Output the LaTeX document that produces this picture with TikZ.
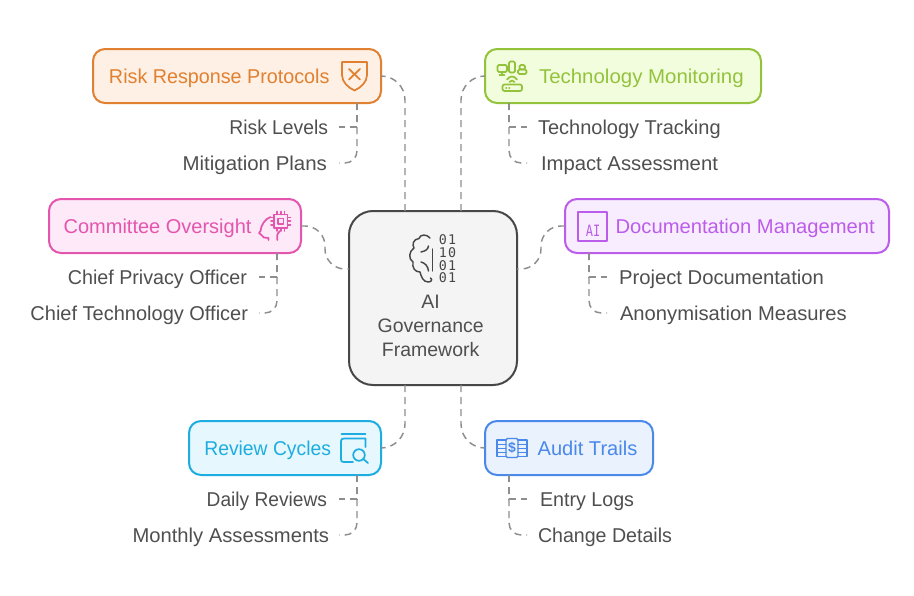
\documentclass[tikz,border=0pt]{standalone}
\usepackage{fontspec}
\usepackage{graphicx}
\setmainfont{Liberation Sans}
\newfontfamily\monof{DejaVu Sans Mono}
\newfontfamily\monosp[LetterSpace=8]{DejaVu Sans Mono}
\definecolor{inkc}{HTML}{4F4F4F}
\definecolor{dashc}{HTML}{8E8E8E}
\definecolor{orS}{HTML}{E08030}\definecolor{orF}{HTML}{FEF0E4}
\definecolor{grS}{HTML}{93C33B}\definecolor{grF}{HTML}{F2FDDD}
\definecolor{piS}{HTML}{E455AE}\definecolor{piF}{HTML}{FDE9F7}
\definecolor{puS}{HTML}{BC5CEB}\definecolor{puF}{HTML}{F8EDFE}
\definecolor{cyS}{HTML}{1DADE0}\definecolor{cyF}{HTML}{E6F7FE}
\definecolor{blS}{HTML}{4A88EA}\definecolor{blF}{HTML}{EAF2FE}
\definecolor{ceS}{HTML}{474747}\definecolor{ceF}{HTML}{F4F4F4}
\newcommand{\padtext}[3]{\hspace*{#1pt}\scalebox{#2}[1]{#3}}
\newcommand{\sx}[2]{\scalebox{#1}[1]{#2}}
\tikzset{
  basefont/.style={font=\fontsize{15}{18}\selectfont},
  mainbox/.style={draw=#1,text=#1,line width=1.5pt,rounded corners=9pt,minimum height=40.5pt,
    inner xsep=0pt,inner ysep=0pt,outer sep=0pt,text height=13.5pt,text depth=3pt,basefont,align=left},
  subr/.style={text=inkc,anchor=west,inner ysep=0pt,outer sep=0pt,text height=13.5pt,text depth=3pt,basefont},
  subl/.style={text=inkc,anchor=east,inner ysep=0pt,outer sep=0pt,text height=13.5pt,text depth=3pt,basefont},
  conn/.style={draw=dashc,line width=1.1pt,dash pattern=on 5.25pt off 3.75pt},
  icon/.style={draw=#1,line width=1.3pt,line cap=round,line join=round,fill=none},
  binary/.style={text=ceS,inner sep=0pt,font=\monosp\fontsize{10}{10}\selectfont},
}
\begin{document}
\begin{tikzpicture}[x=0.75pt,y=-0.75pt]
\useasboundingbox[fill=white] (0,0) rectangle (914,596);

% central node
\node[draw=ceS,fill=ceF,line width=1.5pt,rounded corners=18pt,minimum width=126pt,minimum height=130.5pt,
  inner sep=0pt,outer sep=0pt,text=inkc,font=\fontsize{14.6}{18}\selectfont,align=center] (center) at (433,298)
  {\rule{0pt}{52.5pt}\hspace*{-3.5pt}AI\\\hspace*{-3.5pt}Governance\\\hspace*{-3.5pt}Framework};

% category nodes
\node[mainbox=orS,fill=orF,minimum width=216pt] (risk) at (237,76) {\makebox[216pt][l]{\padtext{12}{0.987}{Risk Response Protocols}}};
\node[mainbox=grS,fill=grF,minimum width=207pt] (tech) at (623,76) {\makebox[207pt][l]{\padtext{40.5}{1.023}{Technology Monitoring}}};
\node[mainbox=piS,fill=piF,minimum width=189pt] (committee) at (175,226) {\makebox[189pt][l]{\padtext{11}{1.0}{Committee Oversight}}};
\node[mainbox=puS,fill=puF,minimum width=243pt] (doc) at (727,226) {\makebox[243pt][l]{\padtext{38}{1.009}{Documentation Management}}};
\node[mainbox=cyS,fill=cyF,minimum width=144pt] (review) at (285,448) {\makebox[144pt][l]{\padtext{11.5}{0.966}{Review Cycles}}};
\node[mainbox=blS,fill=blF,minimum width=126pt] (audit) at (569,448) {\makebox[126pt][l]{\padtext{39.5}{1.004}{Audit Trails}}};

% detail labels
\node[subl,inner xsep=8.25pt] (risklevels) at (339,127) {\sx{0.964}{Risk Levels}};
\node[subl,inner xsep=9pt] (mitigation) at (339,163) {\sx{1.023}{Mitigation Plans}};
\node[subr,inner xsep=8.25pt] (tracking) at (527,127) {\sx{1.0}{Technology Tracking}};
\node[subr,inner xsep=10.5pt] (impact) at (527,163) {\sx{1.014}{Impact Assessment}};
\node[subl,inner xsep=9pt] (privacy) at (259,277) {\sx{0.985}{Chief Privacy Officer}};
\node[subl,inner xsep=8.25pt] (cto) at (259,313) {\sx{1.0}{Chief Technology Officer}};
\node[subr,inner xsep=9pt] (projdoc) at (607,277) {\sx{1.013}{Project Documentation}};
\node[subr,inner xsep=9.75pt] (anon) at (607,313) {\sx{1.01}{Anonymisation Measures}};
\node[subl,inner xsep=9pt] (daily) at (339,499) {\sx{0.958}{Daily Reviews}};
\node[subl,inner xsep=7.5pt] (monthly) at (339,535) {\sx{1.01}{Monthly Assessments}};
\node[subr,inner xsep=9.75pt] (entry) at (527,499) {\sx{0.984}{Entry Logs}};
\node[subr,inner xsep=8.25pt] (change) at (527,535) {\sx{0.98}{Change Details}};

% main connectors
\draw[conn,rounded corners=18pt] ([xshift=-21pt]center.north) |- (risk.east);
\draw[conn,rounded corners=18pt] ([xshift=21pt]center.north) |- (tech.west);
\draw[conn,rounded corners=18pt] ([xshift=-21pt]center.south) |- (review.east);
\draw[conn,rounded corners=18pt] ([xshift=21pt]center.south) |- (audit.west);
\draw[conn,rounded corners=15pt] (committee.east) -- ++(24,0) |- ([yshift=21.75pt]center.west);
\draw[conn,rounded corners=15pt] (doc.west) -- ++(-24,0) |- ([yshift=21.75pt]center.east);

% detail connectors
\draw[conn] ([xshift=90pt]risk.south) |- (risklevels.east);
\draw[conn,rounded corners=9pt] ([xshift=90pt]risk.south) |- (mitigation.east);
\draw[conn] ([xshift=-85.5pt]tech.south) |- (tracking.west);
\draw[conn,rounded corners=9pt] ([xshift=-85.5pt]tech.south) |- (impact.west);
\draw[conn] ([xshift=76.5pt]committee.south) |- (privacy.east);
\draw[conn,rounded corners=9pt] ([xshift=76.5pt]committee.south) |- (cto.east);
\draw[conn] ([xshift=-103.5pt]doc.south) |- (projdoc.west);
\draw[conn,rounded corners=9pt] ([xshift=-103.5pt]doc.south) |- (anon.west);
\draw[conn] ([xshift=54pt]review.south) |- (daily.east);
\draw[conn,rounded corners=9pt] ([xshift=54pt]review.south) |- (monthly.east);
\draw[conn] ([xshift=-45pt]audit.south) |- (entry.west);
\draw[conn,rounded corners=9pt] ([xshift=-45pt]audit.south) |- (change.west);

% shield icon
\draw[icon=orS] (342,62) -- (367,62) -- (367,75) .. controls (367,82) and (361,87.5) .. (354.5,90.5)
  .. controls (348,87.5) and (342,82) .. (342,75) -- cycle;
\draw[icon=orS] (349,69) -- (360,79.5) (360,69) -- (349,79.5);

% devices and router icon
\begin{scope}[icon=grS]
\draw[rounded corners=1pt] (497.5,65) rectangle (507,72);
\draw (502,72) -- (502,75) (499.5,75) -- (504.5,75);
\draw[rounded corners=1pt] (509,61.5) rectangle (515,72.5);
\draw[rounded corners=1pt] (518,69.5) rectangle (526.5,74);
\draw[rounded corners=1pt] (519.5,65) rectangle (525,69.5);
\draw (507,79.5) .. controls (510,75.5) and (514,75.5) .. (517,79.5);
\draw (509.5,82) .. controls (511,80) and (513,80) .. (514.5,82);
\draw[rounded corners=1.5pt] (502.5,84.5) rectangle (522,91);
\draw (506,87.8) -- (506.5,87.8) (509,87.8) -- (509.5,87.8);
\end{scope}

% head with chip icon
\begin{scope}[icon=piS]
\draw (270.5,217) .. controls (265,219) and (261,225) .. (260.5,231) -- (259,233) -- (261.5,235)
  .. controls (262,238) and (265,237.5) .. (268.5,238) -- (268.5,240);
\draw (277.3,240) -- (277.3,235) .. controls (277.3,233.5) and (279,232) .. (280,231);
\draw (274,214.5) rectangle (287.5,228);
\draw (278,218.5) rectangle (283.5,224);
\draw (277,211.5)--(277,214.5) (280.7,211.5)--(280.7,214.5) (284.4,211.5)--(284.4,214.5);
\draw (277,228)--(277,231) (280.7,228)--(280.7,231) (284.4,228)--(284.4,231);
\draw (271,217.5)--(274,217.5) (271,221.2)--(274,221.2) (271,225)--(274,225);
\draw (287.5,217.5)--(290.5,217.5) (287.5,221.2)--(290.5,221.2) (287.5,225)--(290.5,225);
\end{scope}

% AI document icon
\draw[icon=puS,line width=1.5pt] (577.5,212) rectangle (606.5,240.5);
\node[text=puS,inner sep=0pt,font=\monof\fontsize{9}{9}\selectfont] (aimark) at (593,231) {\scalebox{1}[1.3]{AI}};

% book with magnifier icon
\begin{scope}[icon=cyS]
\draw (341.5,434) -- (365.5,434);
\draw (365.5,447) -- (365.5,438.5) -- (344,438.5) .. controls (342,438.5) and (341,439.5) .. (341,441) -- (341,459.5)
  .. controls (341,461.5) and (342,462) .. (344,462) -- (353,462);
\draw (359,455) circle [radius=5.8];
\draw (363.3,459) -- (368,463);
\end{scope}

% ledger icon
\begin{scope}[icon=blS,line width=1.1pt]
\draw (506,440) -- (497,440) -- (497,456.5) -- (506,456.5);
\draw (518,440) -- (527,440) -- (527,456.5) -- (518,456.5);
\draw[rounded corners=1pt] (506,438.5) rectangle (518,457.5);
\draw (497,444.3) -- (506,444.3) (497,448.3) -- (506,448.3) (497,452.3) -- (506,452.3);
\draw (518,444.3) -- (527,444.3) (518,448.3) -- (527,448.3) (518,452.3) -- (527,452.3);
\end{scope}
\node[text=blS,inner sep=0pt,font=\bfseries\fontsize{10.5}{10.5}\selectfont] (dollar) at (512,448) {\$};

% brain and binary icon
\begin{scope}[icon=ceS,line width=1.1pt]
\draw (430,238) .. controls (427,234) and (420,234) .. (419,238.5)
  .. controls (413,239) and (412,245) .. (414,248)
  .. controls (409,251) and (408,259) .. (413,262)
  .. controls (412,268) and (415,272) .. (420,272)
  .. controls (421,276) and (423,282) .. (428,282)
  .. controls (431,282) and (433,280) .. (430.5,278);
\draw (421,252) .. controls (425,251) and (428,250) .. (428.5,246);
\draw (421,262) .. controls (425,263) and (428,266) .. (428.5,271);
\draw (432.7,249) -- (432.7,271);
\end{scope}
\node[binary] (bin1) at (447.5,240) {01};
\node[binary] (bin2) at (447.5,253) {10};
\node[binary] (bin3) at (447.5,265.5) {01};
\node[binary] (bin4) at (447.5,278) {01};
\end{tikzpicture}
\end{document}
